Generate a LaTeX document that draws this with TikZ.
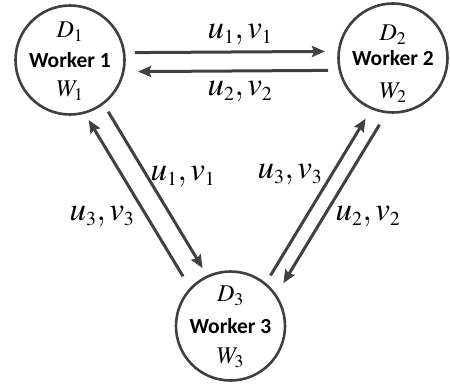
\documentclass[tikz,border=0pt]{standalone}
\usepackage{mathptmx}
\usepackage{fontspec}
\setsansfont{Carlito}
\usepackage{tikz}
\usetikzlibrary{calc, arrows.meta, positioning}

\definecolor{linegray}{RGB}{64,64,64}
\newcommand{\msgpair}[1]{$u_{\scriptscriptstyle #1},v_{\scriptscriptstyle #1}$}

\begin{document}
\begin{tikzpicture}[
    x=1pt, y=1pt,
    worker/.style={
        circle, draw=linegray, line width=2.6pt, fill=white,
        minimum size=109pt, inner sep=0pt,
        font=\fontsize{21.5}{24}\selectfont\sffamily\bfseries
    },
    varlbl/.style={
        inner sep=0pt, font=\fontsize{24}{28}\selectfont
    },
    msglbl/.style={
        inner sep=0pt, font=\fontsize{33}{36}\selectfont
    },
    arrow/.style={
        -{Stealth[length=13pt, width=11pt, inset=2pt]},
        line width=3pt, draw=linegray
    }
]
    \useasboundingbox (0,0) rectangle (450,384);

    % --- NODES ---
    \node [worker] (w1) at (70,324) {Worker 1};
    \node [worker] (w2) at (393,326) {Worker 2};
    \node [worker] (w3) at (230.5,58) {Worker 3};

    \node [varlbl] (d1) at ([yshift=28pt]w1.center) {$D_1$};
    \node [varlbl] (v1) at ([yshift=-31pt]w1.center) {$W_1$};
    \node [varlbl] (d2) at ([yshift=23pt]w2.center) {$D_2$};
    \node [varlbl] (v2) at ([yshift=-35pt]w2.center) {$W_2$};
    \node [varlbl] (d3) at ([yshift=30pt]w3.center) {$D_3$};
    \node [varlbl] (v3) at ([yshift=-32pt]w3.center) {$W_3$};

    % --- CONNECTING ARROWS ---
    \draw [arrow, shorten <=65pt, shorten >=68pt]
        ($(w1)!7pt!90:(w2)$) -- ($(w2)!7pt!-90:(w1)$);
    \draw [arrow, shorten <=65pt, shorten >=68pt]
        ($(w2)!12pt!90:(w1)$) -- ($(w1)!12pt!-90:(w2)$);

    \draw [arrow, shorten <=64pt, shorten >=64pt]
        ($(w1)!6pt!90:(w3)$) -- ($(w3)!6pt!-90:(w1)$);
    \draw [arrow, shorten <=67pt, shorten >=61pt]
        ($(w3)!15pt!90:(w1)$) -- ($(w1)!15pt!-90:(w3)$);

    \draw [arrow, shorten <=64pt, shorten >=66pt]
        ($(w3)!8pt!-90:(w2)$) -- ($(w2)!8pt!90:(w3)$);
    \draw [arrow, shorten <=64pt, shorten >=64pt]
        ($(w2)!23pt!90:(w3)$) -- ($(w3)!23pt!-90:(w2)$);

    % --- MESSAGE LABELS ---
    \node [msglbl] (m12) at (240,349) {\msgpair{1}};
    \node [msglbl] (m21) at (240,292) {\msgpair{2}};
    \node [msglbl] (m13) at (183,207) {\msgpair{1}};
    \node [msglbl] (m31) at (102,167) {\msgpair{3}};
    \node [msglbl] (m32) at (290,209) {\msgpair{3}};
    \node [msglbl] (m23) at (368,167) {\msgpair{2}};

\end{tikzpicture}
\end{document}
